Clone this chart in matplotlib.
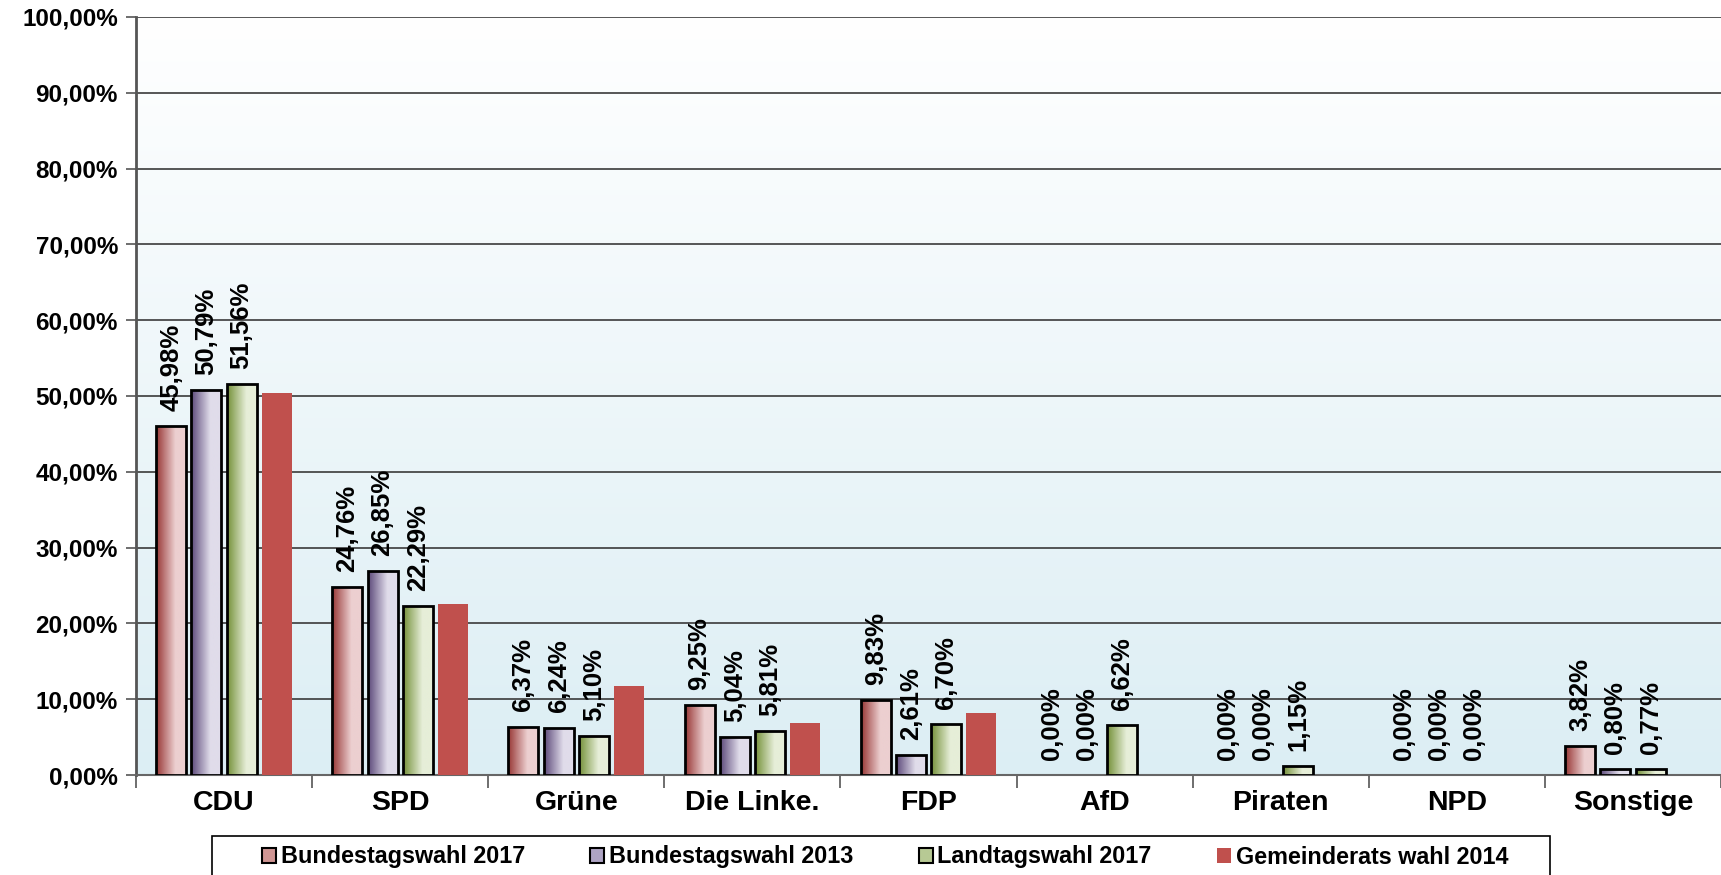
import numpy as np
import matplotlib
matplotlib.use("Agg")
import matplotlib.pyplot as plt
from matplotlib.colors import LinearSegmentedColormap
from matplotlib.patches import Patch, Rectangle
from matplotlib.ticker import FuncFormatter, MultipleLocator, FixedLocator

# =============================================================================
# DATEN
# =============================================================================

parteien = ["CDU", "SPD", "Grüne", "Die Linke.", "FDP", "AfD", "Piraten", "NPD", "Sonstige"]
serien = ["Bundestagswahl 2017", "Bundestagswahl 2013", "Landtagswahl 2017", "Gemeinderats wahl 2014"]

btw_2017 = [45.98, 24.76, 6.37, 9.25, 9.83, 0.00, 0.00, 0.00, 3.82]
btw_2013 = [50.79, 26.85, 6.24, 5.04, 2.61, 0.00, 0.00, 0.00, 0.80]
ltw_2017 = [51.56, 22.29, 5.10, 5.81, 6.70, 6.62, 1.15, 0.00, 0.77]
gr_2014 = [50.4, 22.5, 11.8, 6.8, 8.2, 0.0, 0.0, 0.0, 0.0]

werte = [btw_2017, btw_2013, ltw_2017, gr_2014]

# =============================================================================
# STIL
# =============================================================================

FONT = ["Liberation Sans", "DejaVu Sans"]
plt.rcParams["font.family"] = FONT
plt.rcParams["font.weight"] = "bold"

# Verlauf (dunkel links -> hell rechts) je Serie, letzte Serie einfarbig
VERLAEUFE = [
    ("#983836", "#eccfd0"),
    ("#5d4a7b", "#e0dcea"),
    ("#75913a", "#e6eed8"),
]
LEG_FARBEN = ["#cf9593", "#aea4c4", "#b7c994"]
GR_FARBE = "#c0504d"
BAR_W = 0.17
STEP = 0.2


def make_cmap(dark, light):
    return LinearSegmentedColormap.from_list("g", [(0, dark), (0.65, light), (1, light)])


def pct(v, _=None):
    return f"{v:.2f}%".replace(".", ",")


fig = plt.figure(figsize=(17.21, 8.75), dpi=100)
ax = fig.add_axes([136 / 1721, 1 - 775 / 875, 1 - 136 / 1721, (775 - 17) / 875])

# Hintergrundverlauf weiss (oben) -> hellblau (unten)
bg = LinearSegmentedColormap.from_list("bg", ["#ffffff", "#dceef4"])
ax.imshow(np.linspace(0, 1, 256).reshape(-1, 1), extent=[-0.5, 8.5, 0, 100],
          cmap=bg, aspect="auto", zorder=0)

x = np.arange(len(parteien))
for j, vals in enumerate(werte):
    xs = x + (j - 1.5) * STEP
    if j < 3:
        cmap = make_cmap(*VERLAEUFE[j])
        bars = ax.bar(xs, vals, BAR_W, facecolor="none", edgecolor="black",
                      linewidth=2.0, zorder=4)
        for b, v in zip(bars, vals):
            if v <= 0:
                b.set_linewidth(0)
                continue
            im = ax.imshow(np.linspace(0, 1, 64).reshape(1, -1),
                           extent=[b.get_x(), b.get_x() + b.get_width(), 0, v],
                           cmap=cmap, aspect="auto", zorder=3)
            im.set_clip_path(b)
        for xi, v in zip(xs, vals):
            ax.annotate(pct(v), (xi, v), xytext=(0, 11), textcoords="offset points",
                        rotation=90, ha="center", va="bottom",
                        fontsize=18.5, fontweight="bold", zorder=5)
    else:
        ax.bar(xs, vals, BAR_W, color=GR_FARBE, linewidth=0, zorder=3)

ax.set_xlim(-0.5, 8.5)
ax.set_ylim(0, 100)

ax.yaxis.set_major_locator(MultipleLocator(10))
ax.yaxis.set_major_formatter(FuncFormatter(pct))
ax.grid(axis="y", color="#3a3a3a", linewidth=1.2, zorder=1)
ax.set_axisbelow(True)
ax.tick_params(axis="y", labelsize=17.5, length=7, width=1.2, color="#555555", pad=6)

ax.xaxis.set_major_locator(FixedLocator(x))
ax.set_xticklabels(parteien, fontsize=20.5, fontweight="bold")
ax.xaxis.set_minor_locator(FixedLocator(np.arange(-0.5, 9, 1)))
ax.tick_params(axis="x", which="major", length=0, pad=11)
ax.tick_params(axis="x", which="minor", length=9, width=1.2, color="#555555")

for s in ["top", "right"]:
    ax.spines[s].set_visible(False)
ax.spines["left"].set_color("#555555")
ax.spines["left"].set_linewidth(2)
ax.spines["bottom"].set_color("#666666")
ax.spines["bottom"].set_linewidth(1.5)

# Legende (Rahmen separat gezeichnet)
fig.patches.append(Rectangle((212 / 1721, -0.01), (1550 - 212) / 1721, 0.01 + 39 / 875,
                             transform=fig.transFigure, facecolor="white",
                             edgecolor="black", linewidth=1.2, zorder=0))
handles = [Patch(facecolor=LEG_FARBEN[j], edgecolor="black", linewidth=1.5)
           for j in range(3)]
handles.append(Patch(facecolor=GR_FARBE, edgecolor="none"))
leg = fig.legend(handles, serien, ncol=4, loc="center",
                 bbox_to_anchor=(885 / 1721, 1 - 857 / 875),
                 frameon=False, prop={"family": FONT, "weight": "bold", "size": 16.8},
                 handlelength=0.6, handleheight=0.6, handletextpad=0.2,
                 columnspacing=2.8, borderaxespad=0, borderpad=0)

fig.savefig("out.png", dpi=100)
